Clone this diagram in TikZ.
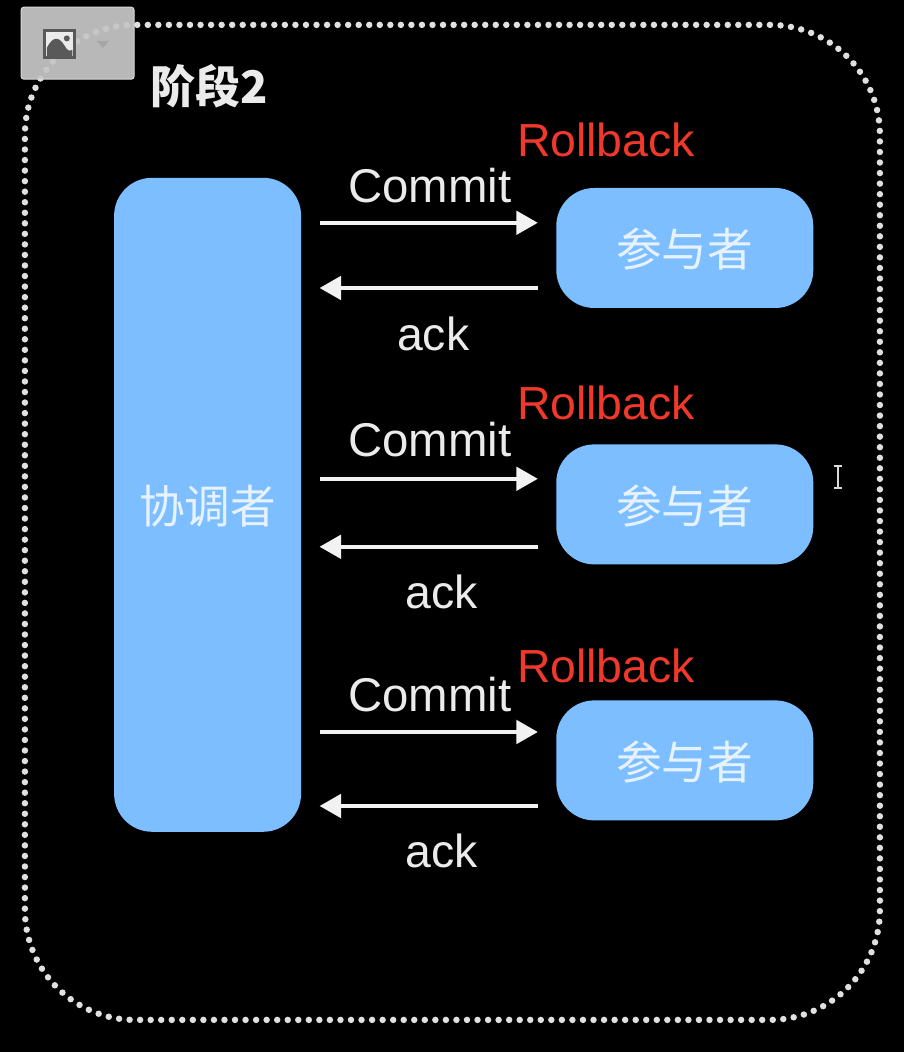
\documentclass[tikz,border=0pt]{standalone}
\usepackage{fontspec}
\setmainfont{Liberation Sans}
\newfontfamily\cjk{Noto Sans CJK SC}
\usepackage{xcolor}
\usetikzlibrary{positioning,arrows.meta}
\definecolor{boxblue}{HTML}{7CBEFF}
\definecolor{rollred}{HTML}{F0392B}
\definecolor{cjkpale}{HTML}{E6F2FF}
\tikzset{
  actor/.style={fill=boxblue,text=cjkpale,rounded corners=.95cm,outer xsep=.46cm,text height=30pt,text depth=3.2pt,font=\cjk\fontsize{32.5}{36}\selectfont},
  part/.style={actor,minimum width=6.425cm,minimum height=3cm},
  msglabel/.style={text=white!92!black,font=\fontsize{33}{38}\selectfont},
  rolllabel/.style={text=rollred,font=\fontsize{33}{38}\selectfont},
  flow/.style={draw=white!95!black,line width=3.2pt},
}
\begin{document}
\begin{tikzpicture}[>={Triangle[length=5.4mm,width=5.8mm]}]
\useasboundingbox[fill=black] (0,0) rectangle (22.6,26.3);
\node[draw=white!88!black,line width=4.6pt,line cap=round,dash pattern=on 0pt off 7.5pt,rounded corners=2.75cm,minimum width=21.375cm,minimum height=24.875cm] (frame) at (11.31,13.24) {};
\node[fill=gray!45!white,fill opacity=.93,draw=white!85!black,line width=.7pt,rounded corners=2pt,minimum width=2.825cm,minimum height=1.8cm] (toolbar) at (1.94,25.22) {};
\node[draw=black!65,fill=white!92!black,line width=1.6pt,minimum width=.75cm,minimum height=.68cm,inner sep=0pt] (icon) at (1.49,25.2) {};
\fill[black!65] (1.17,24.9) -- (1.17,25.1) .. controls (1.35,25.45) and (1.5,25.35) .. (1.62,25.15) .. controls (1.7,25) and (1.78,25.02) .. (1.81,25.05) -- (1.81,24.9) -- cycle;
\fill[black!65] (1.67,25.34) circle (.075);
\fill[black!35] (2.42,25.28) -- (2.72,25.28) -- (2.57,25.1) -- cycle;
\node[text=white!92!black,font=\cjk\bfseries\fontsize{32}{36}\selectfont] (stage) at (5.22,24.15) {阶段2};
\node[actor,minimum width=4.675cm,minimum height=16.35cm] (coord) at (5.19,13.68) {协调者};
\node[part] (part1) at (17.12,20.1) {参与者};
\node[part] (part2) at (17.12,13.69) {参与者};
\node[part] (part3) at (17.12,7.29) {参与者};
\node[rolllabel] (roll1) at (15.15,22.8) {Rollback};
\node[rolllabel] (roll2) at (15.15,16.23) {Rollback};
\node[rolllabel] (roll3) at (15.15,9.65) {Rollback};
\node[msglabel,font=\fontsize{33.7}{38}\selectfont] (commit1) at (10.75,21.65) {Commit};
\node[msglabel,font=\fontsize{33.7}{38}\selectfont] (commit2) at (10.75,15.3) {Commit};
\node[msglabel,font=\fontsize{33.7}{38}\selectfont] (commit3) at (10.75,8.93) {Commit};
\node[msglabel] (ack1) at (10.83,17.95) {ack};
\node[msglabel] (ack2) at (11.05,11.5) {ack};
\node[msglabel] (ack3) at (11.05,5.02) {ack};
\coordinate (send1) at ([yshift=.63cm]part1.west);
\coordinate (back1) at ([yshift=-1cm]part1.west);
\coordinate (send2) at ([yshift=.64cm]part2.west);
\coordinate (back2) at ([yshift=-1.06cm]part2.west);
\coordinate (send3) at ([yshift=.71cm]part3.west);
\coordinate (back3) at ([yshift=-1.14cm]part3.west);
\draw[flow,->] (coord.east |- send1) -- (send1);
\draw[flow,<-] (coord.east |- back1) -- (back1);
\draw[flow,->] (coord.east |- send2) -- (send2);
\draw[flow,<-] (coord.east |- back2) -- (back2);
\draw[flow,->] (coord.east |- send3) -- (send3);
\draw[flow,<-] (coord.east |- back3) -- (back3);
\draw[white!85!black,line width=.9pt] (20.84,14.65) -- (21.06,14.65) (20.95,14.65) -- (20.95,14.1) (20.84,14.1) -- (21.06,14.1);
\end{tikzpicture}
\end{document}
